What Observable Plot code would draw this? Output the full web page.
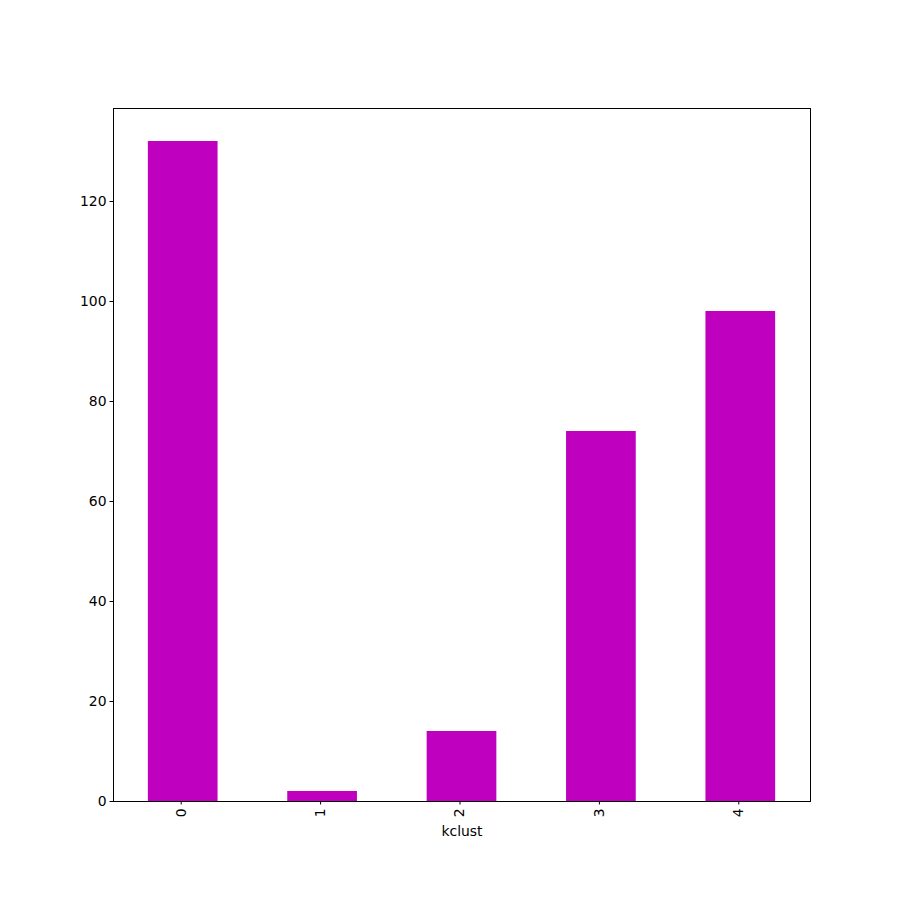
<!DOCTYPE html>
<html>
<head>
<meta charset="utf-8">
<script src="https://cdn.jsdelivr.net/npm/d3@7"></script>
<script src="https://cdn.jsdelivr.net/npm/@observablehq/plot@0.6"></script>
<style>
body { margin: 0; background: #fff; }
svg { font-family: "DejaVu Sans", sans-serif; }
</style>
</head>
<body>
<div id="chart"></div>
<script>
const categories = ["0", "1", "2", "3", "4"];
const counts = [132, 2, 14, 74, 98];
const yTicks = [0, 20, 40, 60, 80, 100, 120];
const xLabel = "kclust";

const data = categories.map((c, i) => ({kclust: c, count: counts[i]}));

const chart = Plot.plot({
  width: 900,
  height: 900,
  marginTop: 108,
  marginBottom: 99,
  marginLeft: 113,
  marginRight: 90,
  style: {fontFamily: "DejaVu Sans, sans-serif", fontSize: "13.9px", color: "#000", background: "#fff"},
  x: {domain: categories, paddingInner: 0.5, paddingOuter: 0.25, align: 0.5, round: false, label: null},
  y: {domain: [0, 138.6], label: null},
  marks: [
    Plot.barY(data, {x: "kclust", y: "count", fill: "#bf00bf"}),
    Plot.axisY({ticks: yTicks, tickSize: 3.5, tickPadding: 3.5, label: null, tickFormat: d => String(d)}),
    Plot.axisX({tickSize: 3.5, tickPadding: 3.5, tickRotate: -90, label: null, dx: -2}),
    Plot.text([xLabel], {frameAnchor: "bottom", dy: 34, text: d => d, fontSize: 13.9, fill: "#000"}),
    Plot.frame({stroke: "#000", strokeWidth: 1})
  ]
});
document.getElementById("chart").appendChild(chart);
</script>
</body>
</html>
